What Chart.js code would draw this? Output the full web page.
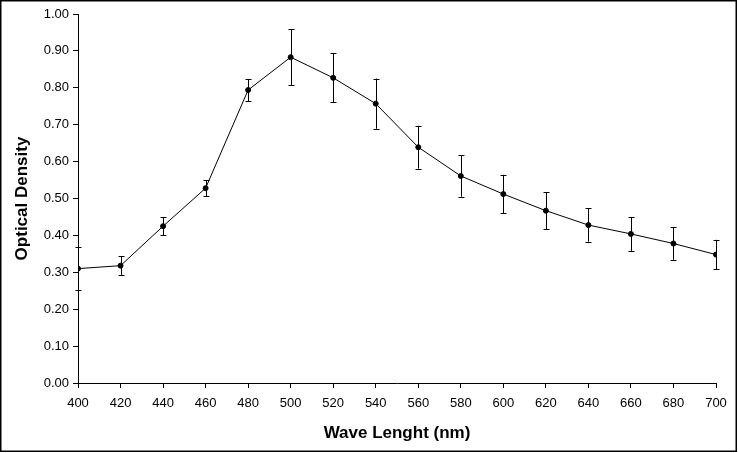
<!DOCTYPE html>
<html lang="en">
<head>
    <meta charset="UTF-8">
    <title>Optical Density vs Wave Length</title>
    <script src="https://cdn.jsdelivr.net/npm/chart.js"></script>
    <style>
        body { margin: 0; background: #fff; }
        .chart-item { width: 738px; height: 453px; }
    </style>
</head>
<body>
    <div class="chart-item"><canvas id="chart"></canvas></div>
    <script>
        // Values
        const wavelengths = [400, 420, 440, 460, 480, 500, 520, 540, 560, 580, 600, 620, 640, 660, 680, 700];
        const density = [0.310, 0.318, 0.425, 0.528, 0.794, 0.883, 0.827, 0.757, 0.639, 0.561, 0.512, 0.467, 0.428, 0.404, 0.378, 0.348];
        const errors = [0.058, 0.025, 0.025, 0.022, 0.030, 0.075, 0.066, 0.068, 0.058, 0.056, 0.052, 0.050, 0.045, 0.046, 0.044, 0.040];

        const tickFont = { family: "'Liberation Sans', Arial", size: 13 };
        const titleFont = { family: "'Liberation Sans', Arial", size: 17, weight: 'bold' };

        // error bars with small caps
        const errorBars = {
            id: 'errorBars',
            afterDatasetsDraw(chart) {
                const { ctx, scales: { x, y } } = chart;
                ctx.save();
                ctx.strokeStyle = '#000';
                ctx.lineWidth = 1;
                wavelengths.forEach((w, i) => {
                    const px = Math.round(x.getPixelForValue(w)) + 0.5;
                    const top = y.getPixelForValue(density[i] + errors[i]);
                    const bot = y.getPixelForValue(density[i] - errors[i]);
                    ctx.beginPath();
                    ctx.moveTo(px, top);
                    ctx.lineTo(px, bot);
                    ctx.moveTo(px - 3, Math.round(top) + 0.5);
                    ctx.lineTo(px + 3, Math.round(top) + 0.5);
                    ctx.moveTo(px - 3, Math.round(bot) + 0.5);
                    ctx.lineTo(px + 3, Math.round(bot) + 0.5);
                    ctx.stroke();
                });
                ctx.restore();
            }
        };

        // thin frame round the whole picture
        const frame = {
            id: 'frame',
            afterDraw(chart) {
                const ctx = chart.ctx;
                ctx.save();
                ctx.strokeStyle = '#000';
                ctx.lineWidth = 1.5;
                ctx.strokeRect(0.75, 0.75, chart.width - 2.5, chart.height - 2.5);
                ctx.restore();
            }
        };

        new Chart(document.getElementById('chart'), {
            type: 'line',
            data: {
                datasets: [{
                    data: wavelengths.map((w, i) => ({ x: w, y: density[i] })),
                    borderColor: '#000',
                    borderWidth: 1,
                    pointRadius: 2.5,
                    pointBackgroundColor: '#000',
                    pointBorderColor: '#000',
                    fill: false,
                    tension: 0
                }]
            },
            options: {
                responsive: true,
                maintainAspectRatio: false,
                animation: false,
                layout: { padding: { top: 14, right: 22, left: 0, bottom: 0 } },
                plugins: {
                    legend: { display: false },
                    tooltip: { enabled: false }
                },
                scales: {
                    x: {
                        type: 'linear',
                        min: 400,
                        max: 700,
                        border: { color: '#000', width: 1 },
                        grid: { drawOnChartArea: false, color: '#000', tickLength: 5 },
                        ticks: { stepSize: 20, color: '#000', font: tickFont, maxRotation: 0, padding: 8 },
                        title: { display: true, text: 'Wave Lenght (nm)', color: '#000', font: titleFont, padding: { top: 4, bottom: 9 } },
                        afterFit(scale) { scale.height = 70; }
                    },
                    y: {
                        min: 0,
                        max: 1,
                        border: { color: '#000', width: 1 },
                        grid: { drawOnChartArea: false, color: '#000', tickLength: 5 },
                        ticks: { stepSize: 0.1, color: '#000', font: tickFont, padding: 4, callback: v => v.toFixed(2) },
                        title: { display: true, text: 'Optical Density', color: '#000', font: titleFont, padding: { top: 12, bottom: 4 } },
                        afterFit(scale) { scale.width = 78; }
                    }
                }
            },
            plugins: [errorBars, frame]
        });
    </script>
</body>
</html>
